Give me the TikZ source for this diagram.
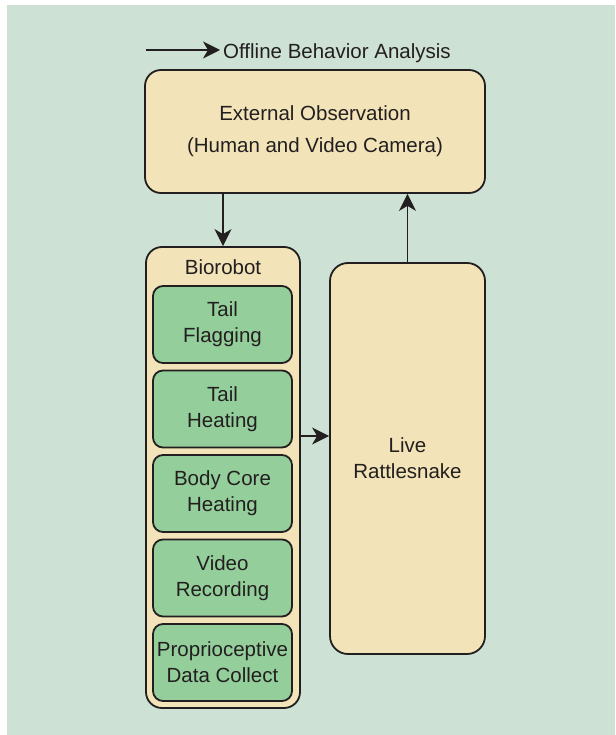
\documentclass[tikz,border=0pt]{standalone}
\usepackage{fontspec}
\setmainfont{Liberation Sans}
\usepackage{xcolor}
\usepackage{tikz}
\usetikzlibrary{arrows.meta}

\definecolor{bgmint}{HTML}{CDE1D4}
\definecolor{tanfill}{HTML}{F2E4B8}
\definecolor{leafgreen}{HTML}{94CF9B}
\definecolor{inkdark}{HTML}{231F20}

\tikzset{
  tanbox/.style={draw=inkdark,line width=1.8pt,fill=tanfill,rounded corners=16pt,align=center,inner sep=0pt},
  funcbox/.style={draw=inkdark,line width=1.8pt,fill=leafgreen,rounded corners=10pt,align=center,
    minimum width=139pt,minimum height=77pt,inner sep=0pt},
  flow/.style={draw=inkdark,line width=1.5pt,-{Stealth[length=17pt,width=17pt,inset=5pt]}},
  lbl/.style={text=inkdark,font=\fontsize{20.5}{26}\selectfont}
}

\begin{document}
\begin{tikzpicture}[x=1pt,y=-1pt]
    \useasboundingbox (0,0) rectangle (615,735);
    \fill[bgmint] (7,5) rectangle (615,735);
    % top: observation box, offline analysis output
    \node[tanbox,lbl,font=\fontsize{20.5}{32}\selectfont,minimum width=340pt,minimum height=123pt]
      (ext) at (315,131.5) {External Observation\\(Human and Video Camera)};
    \node[lbl,anchor=base west,inner sep=3pt] (offline) at (220,59) {Offline Behavior Analysis};
    \coordinate (offstart) at (146,50);
    \draw[flow] (offstart) -- (offstart -| offline.west);
    % biorobot and its five functions
    \node[tanbox,minimum width=154pt,minimum height=461pt] (bio) at (223,477.5) {};
    \node[lbl,anchor=base] (biotitle) at (223,274) {Biorobot};
    \foreach \name/\txt [count=\i from 0] in {flag/{Tail\\Flagging}, heat/{Tail\\Heating},
        core/{Body Core\\Heating}, video/{Video\\Recording}, proprio/{Proprioceptive\\Data Collect}} {
      \node[funcbox,lbl] (\name) at (222.5,324.5+84.5*\i) {\txt};
    }
    % live rattlesnake
    \node[tanbox,lbl,rounded corners=18pt,minimum width=155pt,minimum height=391pt]
      (live) at (407.5,458.5) {Live\\Rattlesnake};
    % connectors
    \draw[flow] (bio.north |- ext.south) -- (bio.north);
    \draw[flow] (live.north) -- (live.north |- ext.south);
    \coordinate (biotap) at (bio.east |- 0,436);
    \draw[flow] (biotap) -- (biotap -| live.west);
\end{tikzpicture}
\end{document}
